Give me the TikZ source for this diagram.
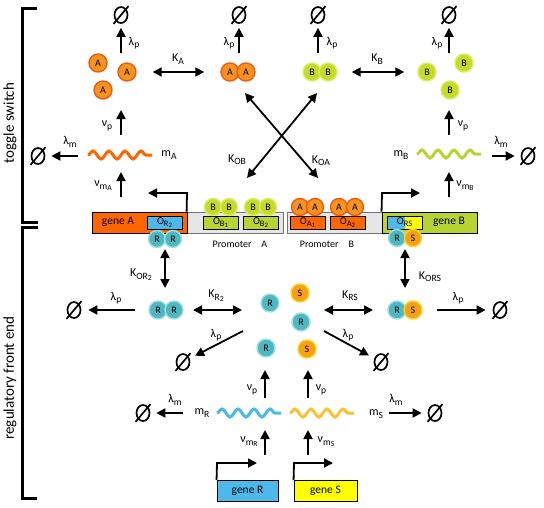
\documentclass[tikz,border=0pt]{standalone}
\usepackage{fontspec}
\usepackage{graphicx}
\setmainfont{Carlito}
\usetikzlibrary{positioning, arrows.meta, shapes.geometric, decorations.pathmorphing}
\definecolor{orA}{HTML}{FF6600}
\definecolor{limeB}{HTML}{B8D432}
\definecolor{blueR}{HTML}{4DB8EA}
\definecolor{yelS}{HTML}{FFFF00}
\definecolor{waveS}{HTML}{F9C234}
\definecolor{promgray}{HTML}{E6E6E6}
\definecolor{molAin}{HTML}{F8931D}
\definecolor{molAout}{HTML}{EC5B13}
\definecolor{molBin}{HTML}{C6DA28}
\definecolor{molBout}{HTML}{DCEA6A}
\definecolor{molRin}{HTML}{4CB8C1}
\definecolor{molRout}{HTML}{A4DDE2}
\definecolor{molSin}{HTML}{F6A01A}
\definecolor{molSout}{HTML}{FFD21E}
\newcommand{\ts}[1]{\raisebox{-0.4ex}{\scalebox{0.8}{#1}}}

\begin{document}
\begin{tikzpicture}[x=1pt, y=-1pt, font=\fontsize{12}{14}\selectfont,
  mol/.style={circle, minimum size=18pt, inner sep=0pt, line width=1.4pt, font=\fontsize{10}{11}\selectfont},
  molA/.style={mol, fill=molAin, draw=molAout}, molB/.style={mol, fill=molBin, draw=molBout},
  molR/.style={mol, fill=molRin, draw=molRout}, molS/.style={mol, fill=molSin, draw=molSout},
  flux/.style={-{Triangle[length=9pt, width=9pt]}, line width=1.8pt},
  bind/.style={{Triangle[length=9pt, width=9pt]}-{Triangle[length=9pt, width=9pt]}, line width=1.8pt},
  nullset/.style={ellipse, draw, line width=1.7pt, minimum width=13pt, minimum height=16pt, inner sep=0pt,
    append after command={(\tikzlastnode.230) edge[line width=1.7pt, shorten <=-3.5pt, shorten >=-3.5pt] (\tikzlastnode.50)}},
  gene/.style={draw, line width=0.9pt, minimum height=21pt, inner sep=0pt, font=\fontsize{11.5}{13}\selectfont},
  site/.style={draw, line width=0.9pt, minimum width=35pt, minimum height=13pt, inner sep=0pt, font=\fontsize{10.5}{11}\selectfont},
  promoter/.style={draw=black!55, fill=promgray, line width=0.8pt, minimum height=21pt, minimum width=96pt, inner sep=0pt},
  mrna/.style={line width=3pt, decorate, decoration={snake, segment length=16pt, amplitude=4pt}},
  bracket/.style={line width=3pt},
  side/.style={rotate=90, font=\fontsize{15}{17}\selectfont}]
\useasboundingbox (0,0) rectangle (544,507);

\draw[bracket] (37,8) -- (22,8) -- (22,222) -- (38,222);
\draw[bracket] (38,227) -- (22,227) -- (22,498) -- (37,498);
\node[side] (tsw) at (10,123) {toggle switch};
\node[side] (rfe) at (10,378) {regulatory front end};

\node[molA] (a1) at (98,63) {A}; \node[molA] (a2) at (127,72) {A}; \node[molA] (a3) at (103,90) {A};
\node[molA] (aa1) at (230,72) {A}; \node[molA] (aa2) at (246,72) {A};
\node[molB] (bb1) at (312,72) {B}; \node[molB] (bb2) at (328,72) {B};
\node[molB] (b1) at (427,72) {B}; \node[molB] (b2) at (464,63) {B}; \node[molB] (b3) at (450,90) {B};

\node[nullset] (nA) at (121,15) {}; \node[nullset] (nAA) at (239,15) {};
\node[nullset] (nBB) at (318,15) {}; \node[nullset] (nB) at (449,15) {};
\coordinate (upA) at (121,53); \coordinate (upAA) at (239,53); \coordinate (upBB) at (318,53); \coordinate (upB) at (449,53);
\draw[flux, shorten >=4pt] (upA) -- (nA); \draw[flux, shorten >=4pt] (upAA) -- (nAA);
\draw[flux, shorten >=4pt] (upBB) -- (nBB); \draw[flux, shorten >=4pt] (upB) -- (nB);
\node (lpA) at (134,43) {λ\ts{p}}; \node (lpAA) at (229,43) {λ\ts{p}};
\node (lpBB) at (332,43) {λ\ts{p}}; \node (lpB) at (437,43) {λ\ts{p}};

\draw[bind, shorten <=16pt, shorten >=16pt] (a2) -- (aa1); \node (KA) at (178,59) {K\ts{A}};
\draw[bind, shorten <=14pt, shorten >=13pt] (bb2) -- (b1); \node (KB) at (377,59) {K\ts{B}};

\coordinate (xAA) at (245,93); \coordinate (xOA) at (318,178);
\coordinate (xBB) at (317,93); \coordinate (xOB) at (247,178);
\draw[bind] (xAA) -- (xOA); \draw[bind] (xBB) -- (xOB);
\node (KOB) at (237,160) {K\ts{OB}}; \node (KOA) at (321,161) {K\ts{OA}};

\draw[mrna, orA] (88,155) -- (152,155); \node (mA) at (169,155) {m\ts{A}};
\node[nullset] (nmA) at (38,156) {}; \coordinate (dmA) at (78,156);
\draw[flux, shorten >=6pt] (dmA) -- (nmA); \node (lmA) at (70,142) {λ\ts{m}};
\coordinate (pA1) at (121,135); \coordinate (pA2) at (121,110);
\draw[flux] (pA1) -- (pA2); \node (vpA) at (107,126) {ν\ts{p}};
\coordinate (tA1) at (121,197); \coordinate (tA2) at (121,172);
\draw[flux] (tA1) -- (tA2); \node (vmA) at (103,186) {ν\ts{m\ts{A}}};

\draw[mrna, limeB] (417,154) -- (481,154); \node (mB) at (401,155) {m\ts{B}};
\node[nullset] (nmB) at (528,156) {}; \coordinate (dmB) at (492,156);
\draw[flux, shorten >=6pt] (dmB) -- (nmB); \node (lmB) at (501,142) {λ\ts{m}};
\coordinate (pB1) at (449,135); \coordinate (pB2) at (449,110);
\draw[flux] (pB1) -- (pB2); \node (vpB) at (463,126) {ν\ts{p}};
\coordinate (tB1) at (449,197); \coordinate (tB2) at (449,172);
\draw[flux] (tB1) -- (tB2); \node (vmB) at (465,186) {ν\ts{m\ts{B}}};

\node[promoter] (prA) at (235,222.5) {}; \node[promoter, minimum width=95pt] (prB) at (334.5,222.5) {};
\node[gene, fill=orA, minimum width=95pt] (gA) at (139.5,222.5) {};
\node[gene, fill=limeB, minimum width=95pt] (gB) at (429.5,222.5) {};
\node[font=\fontsize{11.5}{13}\selectfont] (gAt) at (118,222) {gene A};
\node[font=\fontsize{11.5}{13}\selectfont] (gBt) at (449,222) {gene B};
\node[site, fill=blueR] (oR2) at (164.5,222.5) {O\ts{R\ts{2}}};
\node[site, fill=limeB] (oB1) at (220.5,222.5) {O\ts{B\ts{1}}};
\node[site, fill=limeB] (oB2) at (260.5,222.5) {O\ts{B\ts{2}}};
\node[site, fill=orA] (oA1) at (307.5,222.5) {O\ts{A\ts{1}}};
\node[site, fill=orA] (oA2) at (347.5,222.5) {O\ts{A\ts{2}}};
\node[site, fill=yelS, path picture={\fill[blueR] (path picture bounding box.south west) rectangle (path picture bounding box.north);}] (oRS) at (404.5,222.5) {O\ts{RS}};
\node[font=\fontsize{10}{12}\selectfont] (ptA) at (240,244) {Promoter\quad A};
\node[font=\fontsize{10}{12}\selectfont] (ptB) at (327,244) {Promoter\quad B};

\node[molB, minimum size=17pt] (ob1a) at (213,207) {B}; \node[molB, minimum size=17pt] (ob1b) at (229,207) {B};
\node[molB, minimum size=17pt] (ob2a) at (253,207) {B}; \node[molB, minimum size=17pt] (ob2b) at (268,207) {B};
\node[molA, minimum size=17pt] (oa1a) at (300,207) {A}; \node[molA, minimum size=17pt] (oa1b) at (315,207) {A};
\node[molA, minimum size=17pt] (oa2a) at (339,207) {A}; \node[molA, minimum size=17pt] (oa2b) at (355,207) {A};
\node[molR, minimum size=17pt] (or2a) at (157,239) {R}; \node[molR, minimum size=17pt] (or2b) at (173,239) {R};
\node[molR, minimum size=17pt] (orsR) at (397,238) {R}; \node[molS, minimum size=17pt] (orsS) at (413,238) {S};

\coordinate (tssA) at (187,193); \coordinate (tssAe) at (148,193);
\draw[flux] (prA.north west) -- (tssA) -- (tssAe);
\coordinate (tssB) at (382,193); \coordinate (tssBe) at (420,193);
\draw[flux] (gB.north west) -- (tssB) -- (tssBe);

\coordinate (kR2a) at (165,249); \coordinate (kR2b) at (165,288);
\draw[bind] (kR2a) -- (kR2b); \node (KOR2) at (141,275) {K\ts{OR\ts{2}}};
\coordinate (kRSa) at (405,249); \coordinate (kRSb) at (405,288);
\draw[bind] (kRSa) -- (kRSb); \node (KORS) at (430,277) {K\ts{ORS}};

\node[molR] (rr1) at (158,310) {R}; \node[molR] (rr2) at (174,310) {R};
\node[nullset] (nRR) at (74,310) {};
\draw[flux, shorten <=13pt, shorten >=7pt] (rr1) -- (nRR); \node (lpRR) at (116,298) {λ\ts{p}};
\node[molR] (r1) at (270,303) {R}; \node[molS] (s1) at (300,293) {S}; \node[molR] (r2) at (301,322) {R};
\node[molR] (r3) at (266,348) {R}; \node[molS] (s2) at (307,349) {S};
\coordinate (kR2l) at (193,310); \coordinate (kR2r) at (242,310);
\draw[bind] (kR2l) -- (kR2r); \node (KR2) at (216,296) {K\ts{R\ts{2}}};
\node[molR] (rs1) at (397,310) {R}; \node[molS] (rs2) at (413,310) {S};
\coordinate (kRSl) at (324,310); \coordinate (kRSr) at (373,310);
\draw[bind] (kRSl) -- (kRSr); \node (KRS) at (350,296) {K\ts{RS}};
\node[nullset] (nRS) at (500,310) {};
\draw[flux, shorten <=14pt, shorten >=7pt] (rs2) -- (nRS); \node (lpRS) at (458,298) {λ\ts{p}};

\coordinate (dR1) at (243,331); \node[nullset] (nR) at (183,362) {};
\draw[flux, shorten >=6pt] (dR1) -- (nR); \node (lpR) at (216,335) {λ\ts{p}};
\coordinate (dS1) at (324,331); \node[nullset] (nS) at (381,362) {};
\draw[flux, shorten >=6pt] (dS1) -- (nS); \node (lpS) at (348,335) {λ\ts{p}};

\draw[mrna, blueR] (217,413) -- (281,413); \node (mR) at (202,413) {m\ts{R}};
\draw[mrna, waveS] (290,413) -- (354,413); \node (mS) at (376,414) {m\ts{S}};
\node[nullset] (nmR) at (143,413) {}; \coordinate (dmR) at (183,413);
\draw[flux, shorten >=6pt] (dmR) -- (nmR); \node (lmR) at (175,400) {λ\ts{m}};
\node[nullset] (nmS) at (435,413) {}; \coordinate (dmS) at (389,413);
\draw[flux, shorten >=6pt] (dmS) -- (nmS); \node (lmS) at (396,400) {λ\ts{m}};

\coordinate (pR1) at (265,398); \coordinate (pR2) at (265,370);
\draw[flux] (pR1) -- (pR2); \node (vpR) at (252,390) {ν\ts{p}};
\coordinate (pS1) at (308,398); \coordinate (pS2) at (308,370);
\draw[flux] (pS1) -- (pS2); \node (vpS) at (321,390) {ν\ts{p}};
\coordinate (tR1) at (265,455); \coordinate (tR2) at (265,430);
\draw[flux] (tR1) -- (tR2); \node (vmR) at (249,442) {ν\ts{m\ts{R}}};
\coordinate (tS1) at (308,455); \coordinate (tS2) at (308,430);
\draw[flux] (tS1) -- (tS2); \node (vmS) at (326,442) {ν\ts{m\ts{S}}};

\node[gene, fill=blueR, minimum width=61pt] (gR) at (247.5,491) {gene R};
\node[gene, fill=yelS, minimum width=63pt] (gS) at (325.5,491) {gene S};
\coordinate (tssR) at (217,463); \coordinate (tssRe) at (257,463);
\draw[flux] (gR.north west) -- (tssR) -- (tssRe);
\coordinate (tssS) at (294,463); \coordinate (tssSe) at (333,463);
\draw[flux] (gS.north west) -- (tssS) -- (tssSe);
\end{tikzpicture}
\end{document}
